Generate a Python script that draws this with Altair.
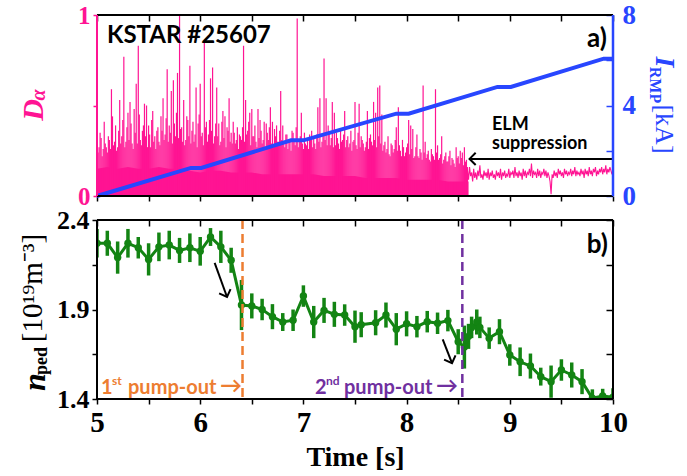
import altair as alt
import pandas as pd

# ---------------- data ----------------
# D-alpha ELM spikes, one peak every 20 ms starting at 5.00 s
elm_peak = [
    0.30, 0.27, 0.32, 0.26, 0.29,   # 5.0
    0.24, 0.31, 0.59, 0.28, 0.39,   # 5.1
    0.27, 0.53, 0.33, 0.77, 0.30,   # 5.2
    0.46, 0.52, 0.29, 0.48, 0.62,   # 5.3
    0.83, 0.31, 0.36, 0.51, 0.50,   # 5.4
    0.39, 0.27, 0.47, 0.33, 0.36,   # 5.5
    0.30, 0.44, 0.54, 0.34, 0.70,   # 5.6
    0.39, 0.58, 0.64, 0.33, 0.68,   # 5.7
    1.00, 0.38, 0.53, 0.31, 0.42,   # 5.8
    0.72, 0.36, 0.30, 0.60, 0.40,   # 5.9
    0.62, 0.35, 0.86, 0.41, 0.34,   # 6.0
    0.65, 0.71, 0.33, 0.60, 0.40,   # 6.1
    0.30, 0.47, 0.44, 0.38, 0.54,   # 6.2
    0.35, 0.41, 0.29, 0.38, 0.34,   # 6.3
    0.31, 0.83, 0.53, 0.36, 0.46,   # 6.4
    0.48, 0.33, 0.30, 0.48, 0.42,   # 6.5
    0.29, 0.41, 0.40, 0.31, 0.49,   # 6.6
    0.41, 0.37, 0.39, 0.30, 0.58,   # 6.7
    0.39, 0.27, 0.34, 0.30, 0.25,   # 6.8
    0.35, 0.28, 0.98, 0.31, 0.46,   # 6.9
    0.26, 0.29, 0.31, 0.34, 0.36,   # 7.0
    0.32, 0.26, 0.49, 0.54, 0.30,   # 7.1
    0.76, 0.54, 0.39, 0.28, 0.52,   # 7.2
    0.46, 0.35, 0.29, 0.37, 0.31,   # 7.3
    0.47, 0.31, 0.27, 0.36, 0.30,   # 7.4
    0.52, 0.26, 0.51, 0.33, 0.29,   # 7.5
    0.27, 0.47, 0.32, 0.30, 0.52,   # 7.6
    0.46, 0.60, 0.61, 0.45, 0.28,   # 7.7
    0.24, 0.33, 0.22, 0.28, 0.26,   # 7.8
    0.38, 0.49, 0.25, 0.31, 0.22,   # 7.9
    0.27, 0.42, 0.39, 0.37, 0.22,   # 8.0
    0.34, 0.21, 0.24, 0.61, 0.30,   # 8.1
    0.23, 0.20, 0.26, 0.22, 0.59,   # 8.2
    0.28, 0.21, 0.33, 0.20, 0.24,   # 8.3
    0.19, 0.25, 0.21, 0.18, 0.27,   # 8.4
    0.22, 0.25, 0.24, 0.27, 0.20,   # 8.5
]

# smaller ELM bursts in between, every 20 ms starting at 5.01 s
elm_mid = [
    0.24, 0.35, 0.22, 0.41, 0.27,   # 5.0
    0.33, 0.26, 0.44, 0.30, 0.25,   # 5.1
    0.36, 0.29, 0.42, 0.27, 0.38,   # 5.2
    0.31, 0.40, 0.26, 0.35, 0.29,   # 5.3
    0.45, 0.28, 0.39, 0.33, 0.27,   # 5.4
    0.34, 0.42, 0.30, 0.26, 0.38,   # 5.5
    0.28, 0.36, 0.31, 0.43, 0.30,   # 5.6
    0.35, 0.29, 0.40, 0.46, 0.32,   # 5.7
    0.37, 0.30, 0.28, 0.44, 0.33,   # 5.8
    0.29, 0.41, 0.34, 0.27, 0.45,   # 5.9
    0.33, 0.28, 0.38, 0.30, 0.42,   # 6.0
    0.36, 0.29, 0.40, 0.33, 0.28,   # 6.1
    0.41, 0.32, 0.27, 0.36, 0.30,   # 6.2
    0.29, 0.35, 0.31, 0.26, 0.33,   # 6.3
    0.38, 0.30, 0.34, 0.41, 0.28,   # 6.4
    0.33, 0.39, 0.27, 0.32, 0.36,   # 6.5
    0.31, 0.26, 0.35, 0.38, 0.29,   # 6.6
    0.27, 0.33, 0.30, 0.36, 0.31,   # 6.7
    0.29, 0.34, 0.26, 0.31, 0.36,   # 6.8
    0.30, 0.38, 0.27, 0.33, 0.29,   # 6.9
    0.35, 0.28, 0.26, 0.31, 0.27,   # 7.0
    0.29, 0.34, 0.30, 0.27, 0.33,   # 7.1
    0.31, 0.28, 0.35, 0.32, 0.27,   # 7.2
    0.28, 0.32, 0.26, 0.30, 0.34,   # 7.3
    0.27, 0.33, 0.29, 0.25, 0.31,   # 7.4
    0.28, 0.35, 0.27, 0.31, 0.25,   # 7.5
    0.30, 0.26, 0.34, 0.28, 0.31,   # 7.6
    0.27, 0.33, 0.29, 0.25, 0.30,   # 7.7
    0.26, 0.23, 0.29, 0.24, 0.31,   # 7.8
    0.25, 0.28, 0.22, 0.27, 0.24,   # 7.9
    0.29, 0.23, 0.26, 0.21, 0.27,   # 8.0
    0.22, 0.26, 0.20, 0.24, 0.21,   # 8.1
    0.25, 0.19, 0.23, 0.20, 0.24,   # 8.2
    0.20, 0.23, 0.18, 0.22, 0.19,   # 8.3
    0.22, 0.17, 0.20, 0.16, 0.21,   # 8.4
    0.18, 0.21, 0.17, 0.19, 0.16,   # 8.5
]

# dense inter-ELM background level, every 100 ms from 5.0 s to 8.6 s
elm_floor = [0.15, 0.16, 0.15, 0.16, 0.15, 0.15, 0.16, 0.15, 0.15, 0.14,
             0.13, 0.14, 0.14, 0.13, 0.13, 0.13, 0.12, 0.12, 0.12, 0.12,
             0.12, 0.12, 0.11, 0.11, 0.11, 0.11, 0.10, 0.10, 0.10, 0.10,
             0.09, 0.09, 0.09, 0.09, 0.08, 0.08, 0.08]

# suppressed phase D-alpha, every 10 ms from 8.58 s to 10.00 s
quiet_da = [0.10, 0.14, 0.09, 0.16, 0.11, 0.13, 0.08, 0.15, 0.10, 0.13,
            0.09, 0.14, 0.11, 0.17, 0.10, 0.12, 0.09, 0.14, 0.11, 0.13,
            0.10, 0.15, 0.09, 0.13, 0.11, 0.14, 0.10, 0.12, 0.09, 0.14,
            0.11, 0.13, 0.10, 0.15, 0.09, 0.13, 0.11, 0.14, 0.10, 0.12,
            0.11, 0.15, 0.10, 0.13, 0.12, 0.14, 0.10, 0.16, 0.11, 0.13,
            0.10, 0.14, 0.11, 0.13, 0.09, 0.15, 0.11, 0.14, 0.10, 0.13,
            0.12, 0.15, 0.11, 0.18, 0.10, 0.14, 0.12, 0.13, 0.10, 0.15,
            0.11, 0.14, 0.10, 0.13, 0.12, 0.15, 0.11, 0.14, 0.10, 0.13,
            0.11, 0.08, 0.01, 0.12, 0.10, 0.14, 0.11, 0.13, 0.10, 0.15,
            0.12, 0.14, 0.11, 0.13, 0.10, 0.15, 0.12, 0.14, 0.11, 0.13,
            0.12, 0.15, 0.11, 0.14, 0.12, 0.16, 0.11, 0.14, 0.12, 0.13,
            0.11, 0.15, 0.12, 0.14, 0.10, 0.15, 0.12, 0.14, 0.11, 0.16,
            0.12, 0.14, 0.11, 0.15, 0.13, 0.16, 0.11, 0.14, 0.12, 0.15,
            0.13, 0.16, 0.12, 0.15, 0.13, 0.17, 0.12, 0.15, 0.13, 0.16,
            0.14, 0.12, 0.15]

# RMP coil current ramp
irmp_t = [5.0, 5.91, 6.01, 6.88, 7.00, 7.90, 8.02, 8.88, 9.01, 9.91, 10.0]
irmp_ka = [0.0, 1.24, 1.24, 2.46, 2.46, 3.64, 3.64, 4.82, 4.82, 6.07, 6.07]

# pedestal density with error bars
nped_t = [5.00, 5.10, 5.20, 5.30, 5.40, 5.50, 5.60, 5.70, 5.80, 5.90,
          6.00, 6.10, 6.20, 6.30, 6.40, 6.50, 6.60, 6.70, 6.80, 6.90,
          7.00, 7.10, 7.20, 7.30, 7.40, 7.50, 7.56, 7.70, 7.80, 7.90,
          8.00, 8.10, 8.20, 8.30, 8.40, 8.50, 8.56, 8.60, 8.63, 8.68,
          8.71, 8.80, 8.90, 9.00, 9.10, 9.20, 9.30, 9.40, 9.50, 9.60,
          9.70, 9.80, 9.90, 10.00]
nped = [2.27, 2.27, 2.19, 2.27, 2.245, 2.18, 2.25, 2.26, 2.23, 2.245,
        2.225, 2.305, 2.25, 2.175, 1.925, 1.92, 1.90, 1.86, 1.83, 1.84,
        1.975, 1.83, 1.895, 1.873, 1.869, 1.804, 1.815, 1.826, 1.869, 1.79,
        1.82, 1.804, 1.832, 1.823, 1.838, 1.72, 1.69, 1.75, 1.80, 1.83,
        1.80, 1.74, 1.776, 1.646, 1.608, 1.584, 1.525, 1.497, 1.562, 1.534,
        1.497, 1.404, 1.417, 1.41]
nped_err = [0.08, 0.07, 0.09, 0.08, 0.06, 0.09, 0.08, 0.08, 0.07, 0.08,
            0.08, 0.05, 0.09, 0.07, 0.14, 0.07, 0.06, 0.07, 0.05, 0.06,
            0.06, 0.09, 0.07, 0.07, 0.06, 0.09, 0.07, 0.07, 0.07, 0.09,
            0.07, 0.06, 0.06, 0.06, 0.06, 0.07, 0.12, 0.07, 0.06, 0.07,
            0.06, 0.06, 0.07, 0.06, 0.08, 0.07, 0.05, 0.09, 0.06, 0.07,
            0.07, 0.05, 0.04, 0.05]

# pump-out times and annotation arrows
pump_out_t = [6.41, 8.54]
arrow_t0 = [6.14, 8.35]
arrow_v0 = [2.16, 1.733]
arrow_t1 = [6.26, 8.44]
arrow_v1 = [1.97, 1.60]
elm_arrow_t = [8.61, 10.0]
elm_arrow_v = 0.205

x_ticks = [5, 5.5, 6, 6.5, 7, 7.5, 8, 8.5, 9, 9.5, 10]
da_ticks = [0, 0.5, 1]
irmp_ticks = [0, 2, 4, 6, 8]
n_ticks = [1.4, 1.65, 1.9, 2.15, 2.4]

# ---------------- tables ----------------
df_elm = pd.DataFrame({"t": [round(5.0 + 0.02 * i, 2) for i in range(len(elm_peak))],
                       "peak": elm_peak})
df_mid = pd.DataFrame({"t": [round(5.01 + 0.02 * i, 2) for i in range(len(elm_mid))],
                       "peak": elm_mid})
df_floor = pd.DataFrame({"t": [round(5.0 + 0.1 * i, 1) for i in range(len(elm_floor))],
                         "floor": elm_floor})
df_quiet = pd.DataFrame({"t": [round(8.58 + 0.01 * i, 2) for i in range(len(quiet_da))],
                         "v": quiet_da})
df_irmp = pd.DataFrame({"t": irmp_t, "ka": irmp_ka})
df_n = pd.DataFrame({"t": nped_t, "n": nped, "err": nped_err})
df_arrows = pd.DataFrame({"t0": arrow_t0, "v0": arrow_v0, "t1": arrow_t1, "v1": arrow_v1})
df_elm_arrow = pd.DataFrame({"t0": [elm_arrow_t[0]], "t1": [elm_arrow_t[1]], "v": [elm_arrow_v]})
one = pd.DataFrame({"k": [0]})

PINK = "#ff1493"
BLUE = "#2846ff"
GREEN = "#138413"
ORANGE = "#ed7d31"
PURPLE = "#7030a0"
SERIF = "Liberation Serif"
SANS = "Lato"

W, H_TOP, H_BOT = 516, 181, 179

xs = alt.Scale(domain=[5, 10], nice=False, zero=False)
ys_da = alt.Scale(domain=[0, 1], nice=False, zero=False)
ys_ka = alt.Scale(domain=[0, 8], nice=False, zero=False)
ys_n = alt.Scale(domain=[1.4, 2.4], nice=False, zero=False)

CHEVRON = "M -1 -1 L 0 0 L 1 -1"


def txt(s, x, y, size, color="black", font=SANS, weight="bold", style="normal",
        align="left", baseline="alphabetic", angle=0):
    return alt.Chart(one).mark_text(
        text=s, fontSize=size, color=color, font=font, fontWeight=weight,
        fontStyle=style, align=align, baseline=baseline
    ).encode(x=alt.value(x), y=alt.value(y), angle=alt.value(angle))


def edge(x, x2, y, y2, color, w=2):
    return alt.Chart(one).mark_rule(color=color, strokeWidth=w).encode(
        x=alt.value(x), x2=alt.value(x2), y=alt.value(y), y2=alt.value(y2))


def bound(y):
    return alt.Chart(one).mark_rule(opacity=0, strokeWidth=0).encode(
        x=alt.value(-97), x2=alt.value(590), y=alt.value(y))


def inward_top():
    return alt.Axis(orient="top", values=x_ticks, labels=False, domain=False, grid=False,
                    tickSize=6, offset=-6, tickWidth=1.5, tickColor="black", title=None)


tick_label = dict(labelFont=SERIF, labelFontWeight="bold", labelFlush=False, grid=False,
                  domain=False, title=None)

# ---------------- top panel: D-alpha and I_RMP ----------------
floor_area = alt.Chart(df_floor).mark_area(color=PINK).encode(
    x=alt.X("t:Q", scale=xs, axis=inward_top()),
    y=alt.Y("floor:Q", scale=ys_da, axis=None),
)

spikes = alt.Chart(df_elm).mark_rule(color=PINK, strokeWidth=1.2).encode(
    x=alt.X("t:Q", scale=xs,
            axis=alt.Axis(orient="bottom", values=x_ticks, labels=False, domain=False,
                          grid=False, tickSize=5, tickWidth=1.5, tickColor="black", title=None)),
    y=alt.Y("peak:Q", scale=ys_da,
            axis=alt.Axis(orient="left", values=da_ticks,
                          labelExpr="datum.value == 0.5 ? '' : format(datum.value, 'd')",
                          labelColor=PINK, labelFontSize=25, tickColor=PINK, tickSize=4,
                          tickWidth=1.5, labelPadding=3, **tick_label)),
    y2=alt.datum(0),
)

mids = alt.Chart(df_mid).mark_rule(color=PINK, strokeWidth=1.2).encode(
    x=alt.X("t:Q", scale=xs, axis=None),
    y=alt.Y("peak:Q", scale=ys_da, axis=None),
    y2=alt.datum(0),
)

quiet = alt.Chart(df_quiet).mark_line(color=PINK, strokeWidth=1.1).encode(
    x=alt.X("t:Q", scale=xs, axis=None),
    y=alt.Y("v:Q", scale=ys_da, axis=None),
)

elm_arrow = alt.Chart(df_elm_arrow).mark_rule(color="black", strokeWidth=2).encode(
    x=alt.X("t0:Q", scale=xs, axis=None), x2="t1:Q",
    y=alt.Y("v:Q", scale=ys_da, axis=None),
)
elm_head = alt.Chart(df_elm_arrow).mark_point(
    shape=CHEVRON, filled=False, size=150, angle=90, color="black", strokeWidth=2, opacity=1
).encode(x=alt.X("t0:Q", scale=xs, axis=None), y=alt.Y("v:Q", scale=ys_da, axis=None))

irmp = alt.Chart(df_irmp).mark_line(color=BLUE, strokeWidth=4).encode(
    x=alt.X("t:Q", scale=xs, axis=None),
    y=alt.Y("ka:Q", scale=ys_ka,
            axis=alt.Axis(orient="right", values=irmp_ticks,
                          labelExpr="datum.value % 4 == 0 ? format(datum.value, 'd') : ''",
                          labelColor=BLUE, labelFontSize=27, tickColor=BLUE, tickSize=7,
                          offset=-7, tickWidth=1.5, labelPadding=9, **tick_label)),
)

top = alt.layer(
    floor_area, spikes, mids, quiet, elm_arrow, elm_head, irmp,
    edge(0, W, 0, 0, "black"),
    edge(0, W, H_TOP, H_TOP, "black"),
    edge(0, 0, 0, H_TOP, PINK),
    edge(W, W, 0, H_TOP, BLUE, 2.5),
    txt("KSTAR #25607", 10, 28, 24),
    txt("a)", 510, 32, 26, align="right"),
    txt("ELM", 395, 115, 18),
    txt("suppression", 395, 134, 18),
    # D_alpha axis title
    txt("D", -63, 95, 30, color=PINK, font=SERIF, style="italic", align="center",
        baseline="middle", angle=270),
    txt("α", -58, 80, 20, color=PINK, font=SERIF, style="italic", align="center",
        baseline="middle", angle=270),
    # I_RMP axis title
    txt("I", 567, 47, 28, color=BLUE, font=SERIF, style="italic", align="center",
        baseline="middle", angle=90),
    txt("RMP", 558, 70, 16, color=BLUE, font=SERIF, align="center",
        baseline="middle", angle=90),
    txt("[kA]", 567, 114, 26, color=BLUE, font=SERIF, weight="normal", align="center",
        baseline="middle", angle=90),
    bound(-15),
).resolve_scale(y="independent").resolve_axis(x="independent", y="independent").properties(
    width=W, height=H_TOP)

# ---------------- bottom panel: pedestal density ----------------
errbars = alt.Chart(df_n).transform_calculate(
    lo="datum.n - datum.err", hi="datum.n + datum.err"
).mark_rule(color=GREEN, strokeWidth=3.5, clip=True).encode(
    x=alt.X("t:Q", scale=xs,
            axis=alt.Axis(orient="bottom", values=x_ticks,
                          labelExpr="datum.value % 1 == 0 ? format(datum.value, 'd') : ''",
                          labelFontSize=29, labelColor="black", tickSize=5, tickWidth=1.5,
                          tickColor="black", labelPadding=4,
                          labelFont=SERIF, labelFontWeight="bold", labelFlush=False,
                          grid=False, domain=False, title="Time [s]", titleFont=SERIF,
                          titleFontSize=28, titleFontWeight="bold", titlePadding=6,
                          titleColor="black")),
    y=alt.Y("lo:Q", scale=ys_n,
            axis=alt.Axis(orient="left", values=n_ticks,
                          labelExpr="(datum.value == 1.4 || datum.value == 1.9 || datum.value == 2.4) ? format(datum.value, '.1f') : ''",
                          labelFontSize=26, labelColor="black", tickSize=5, tickWidth=1.5,
                          tickColor="black", labelPadding=3, **tick_label)),
    y2="hi:Q",
)

nline = alt.Chart(df_n).mark_line(color=GREEN, strokeWidth=3, clip=True).encode(
    x=alt.X("t:Q", scale=xs, axis=inward_top()),
    y=alt.Y("n:Q", scale=ys_n,
            axis=alt.Axis(orient="right", values=n_ticks, labels=False, domain=False,
                          grid=False, tickSize=7, offset=-7, tickWidth=1.5,
                          tickColor="black", title=None)),
)

npts = alt.Chart(df_n).mark_point(filled=True, size=55, color=GREEN, opacity=1, clip=True).encode(
    x=alt.X("t:Q", scale=xs, axis=None),
    y=alt.Y("n:Q", scale=ys_n, axis=None),
)

df_pump = pd.DataFrame({"t": pump_out_t, "c": ["first", "second"]})
pump_lines = alt.Chart(df_pump).mark_rule(strokeWidth=2.5, strokeDash=[9, 5]).encode(
    x=alt.X("t:Q", scale=xs, axis=None),
    y=alt.value(0), y2=alt.value(H_BOT),
    color=alt.Color("c:N", scale=alt.Scale(domain=["first", "second"], range=[ORANGE, PURPLE]),
                    legend=None),
)

drop_arrows = alt.Chart(df_arrows).mark_rule(color="black", strokeWidth=2).encode(
    x=alt.X("t0:Q", scale=xs, axis=None), x2="t1:Q",
    y=alt.Y("v0:Q", scale=ys_n, axis=None), y2="v1:Q",
)
drop_heads = alt.Chart(df_arrows).mark_point(
    shape=CHEVRON, filled=False, size=150, angle=339, color="black", strokeWidth=2, opacity=1
).encode(x=alt.X("t1:Q", scale=xs, axis=None), y=alt.Y("v1:Q", scale=ys_n, axis=None))

bottom = alt.layer(
    errbars, nline, npts, pump_lines, drop_arrows, drop_heads,
    edge(0, W, 0, 0, "black"),
    edge(0, W, H_BOT, H_BOT, "black"),
    edge(0, 0, 0, H_BOT, "black"),
    edge(W, W, 0, H_BOT, "black"),
    txt("b)", 511, 33, 26, align="right"),
    txt("1", 4, 174, 20, color=ORANGE),
    txt("st", 15, 165, 12, color=ORANGE),
    txt("pump-out", 31, 174, 20, color=ORANGE),
    txt("→", 134, 173, 22, color=ORANGE, align="center"),
    txt("2", 218, 174, 20, color=PURPLE),
    txt("nd", 229, 165, 12, color=PURPLE),
    txt("pump-out", 247, 174, 20, color=PURPLE),
    txt("→", 350, 173, 22, color=PURPLE, align="center"),
    # n_ped axis title
    txt("n", -62, 162, 32, font=SERIF, style="italic", align="center",
        baseline="middle", angle=270),
    txt("ped", -55, 141, 18, font=SERIF, align="center", baseline="middle", angle=270),
    txt("[10¹⁹m⁻³]", -64, 68, 29, font=SERIF, weight="normal", align="center",
        baseline="middle", angle=270),
    bound(256),
).resolve_axis(x="independent", y="independent").properties(width=W, height=H_BOT)

chart = alt.vconcat(top, bottom, spacing=24, bounds="flush").properties(
    padding=0, background="white"
).configure_view(stroke=None)

chart.save("out.html", embed_options={"renderer": "svg", "actions": False})
